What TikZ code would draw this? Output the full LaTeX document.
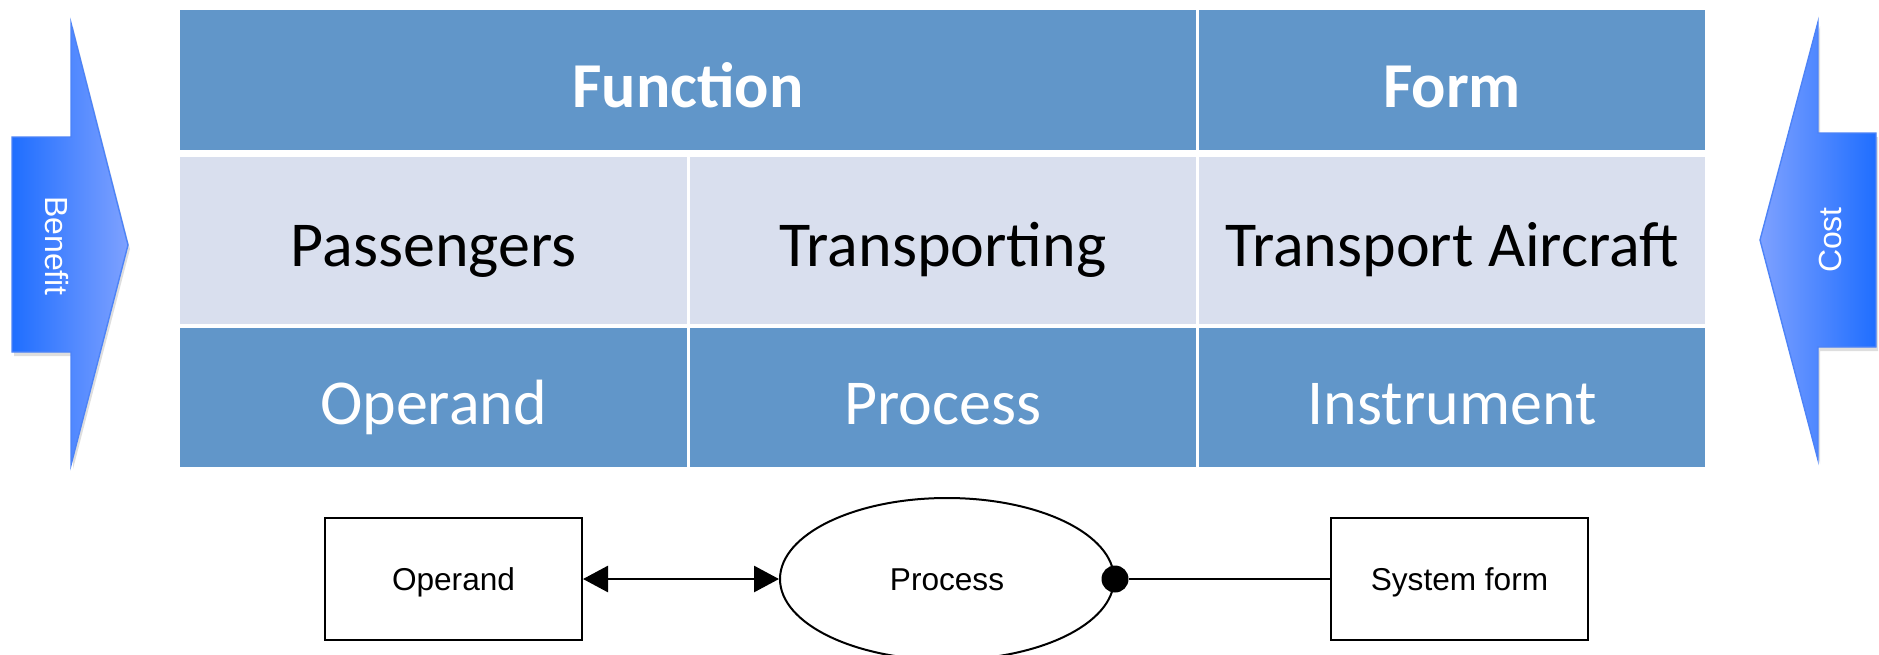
\documentclass[tikz,border=0pt]{standalone}
\usepackage{fontspec}
\setmainfont{Carlito}
\newfontfamily\arialfont{Liberation Sans}
\usetikzlibrary{arrows.meta,shapes.geometric}

\definecolor{cellblue}{HTML}{6196C9}
\definecolor{celllight}{HTML}{D9DFEE}
\definecolor{arrdark}{HTML}{1F6EFF}
\definecolor{arrlight}{HTML}{7EA1FF}
\definecolor{arredge}{HTML}{4D83F7}

\begin{document}
\begin{tikzpicture}[x=0.5pt,y=-0.5pt,
  cell/.style={rectangle, inner sep=0pt, outer sep=0pt, text depth=0pt},
  headcell/.style={cell, fill=cellblue, text=white,
    font=\fontsize{32}{38}\selectfont\bfseries, text height=27pt, minimum height=70pt},
  midcell/.style={cell, fill=celllight, text=black,
    font=\fontsize{32}{38}\selectfont, text height=25.5pt, minimum height=83.5pt},
  lowcell/.style={cell, fill=cellblue, text=white,
    font=\fontsize{32}{38}\selectfont, text height=26.5pt, minimum height=69.5pt},
  sidetext/.style={text=white, inner sep=0pt, font=\arialfont\fontsize{16}{19}\selectfont},
  flowbox/.style={rectangle, draw=black, line width=1pt, fill=white, inner sep=0pt,
    text height=11.3pt, text depth=0pt,
    minimum width=128.5pt, minimum height=61pt, font=\arialfont\fontsize{15.8}{19}\selectfont},
  flowproc/.style={ellipse, draw=black, line width=1pt, fill=white, inner sep=0pt,
    text height=11.3pt, text depth=0pt,
    minimum width=167pt, minimum height=81pt, font=\arialfont\fontsize{15.8}{19}\selectfont},
  bigarrow/.style={draw=arredge, line width=0.7pt, line join=miter},
  >={Triangle[length=12.5pt, width=13pt]}
]
\clip (0,0) rectangle (1879,654);
\fill[white] (0,0) rectangle (1879,654);

% benefit arrow (pointing right)
\fill[black, opacity=0.13, shift={(2,4)}]
  (12,137) -- (71,137) -- (71,23) -- (128,245) -- (71,465) -- (71,352) -- (12,352) -- cycle;
\shadedraw[bigarrow, left color=arrdark, right color=arrlight]
  (12,137) -- (71,137) -- (71,23) -- (128,245) -- (71,465) -- (71,352) -- (12,352) -- cycle;
\node[sidetext, rotate=-90] (benefit) at (57,246) {Benefit};

% cost arrow (pointing left)
\fill[black, opacity=0.13, shift={(2,4)}]
  (1876,133) -- (1818,133) -- (1818,22) -- (1760,240) -- (1818,460) -- (1818,347) -- (1876,347) -- cycle;
\shadedraw[bigarrow, left color=arrlight, right color=arrdark]
  (1876,133) -- (1818,133) -- (1818,22) -- (1760,240) -- (1818,460) -- (1818,347) -- (1876,347) -- cycle;
\node[sidetext, rotate=90] (cost) at (1830,240) {Cost};

% table: header row
\node[headcell, minimum width=508pt] (function) at (688,80) {Function};
\node[headcell, minimum width=253pt] (form) at (1452,80) {Form};

% table: middle row
\node[midcell, minimum width=253.5pt] (passengers) at (433.5,240.5) {Passengers};
\node[midcell, minimum width=253pt] (transporting) at (943,240.5) {Transporting};
\node[midcell, minimum width=253pt] (aircraft) at (1452,240.5) {Transport Aircraft};

% table: bottom row
\node[lowcell, minimum width=253.5pt] (operandcell) at (433.5,397.5) {Operand};
\node[lowcell, minimum width=253pt] (processcell) at (943,397.5) {Process};
\node[lowcell, minimum width=253pt] (instrument) at (1452,397.5) {Instrument};

% object-process sketch
\node[flowbox] (op) at (453.5,579) {Operand};
\node[flowproc] (proc) at (947,579) {Process};
\node[flowbox] (sf) at (1459.5,579) {System form};
\node[circle, fill=black, inner sep=0pt, minimum size=13.5pt] (dot) at (proc.east) {};

\draw[line width=1.4pt, <->] (op.east) -- (proc.west);
\draw[line width=1.3pt] (dot) -- (sf.west);
\end{tikzpicture}
\end{document}
